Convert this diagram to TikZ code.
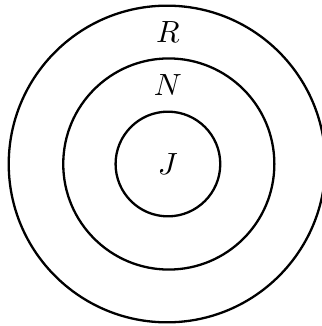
\documentclass[tikz,border=0pt]{standalone}
\usepackage{tikz}

\begin{document}
\begin{tikzpicture}[ring/.style={draw,circle,line width=0.75pt,inner sep=0pt}]
\useasboundingbox (-1.915,-1.857) rectangle (1.766,1.880);
\node[ring,minimum size=3.63cm] (outer) at (0,0) {};
\node[ring,minimum size=2.42cm] (middle) at (0.02,0) {};
\node[ring,minimum size=1.2cm] (inner) at (0.01,0) {$J$};
\node (lblR) at (0.01,1.51) {$R$};
\node (lblN) at (0.01,0.91) {$N$};
\end{tikzpicture}
\end{document}
